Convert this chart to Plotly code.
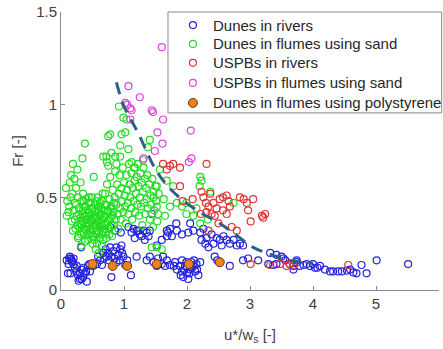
import plotly.graph_objects as go

# ---- data ----
dunes_rivers = [
    (0.14,0.18),(0.17,0.16),(0.12,0.14),(0.20,0.17),(0.15,0.09),(0.25,0.13),(0.30,0.06),(0.33,0.11),
    (0.38,0.09),(0.41,0.045),(0.28,0.05),(0.35,0.07),(0.32,0.23),(0.46,0.10),(0.22,0.12),(0.09,0.16),
    (0.51,0.13),(0.43,0.13),(0.30,0.09),(0.16,0.17),(0.18,0.15),(0.13,0.17),(0.24,0.10),(0.27,0.08),
    (0.36,0.12),(0.40,0.10),(0.20,0.14),(0.11,0.09),(0.33,0.06),(0.45,0.14),
    (0.62,0.16),(0.67,0.20),(0.71,0.22),(0.78,0.23),(0.83,0.21),(0.88,0.23),(0.94,0.22),(0.96,0.24),
    (0.72,0.18),(0.80,0.18),(0.85,0.17),(0.91,0.19),(0.99,0.18),(0.57,0.14),(0.65,0.135),(0.80,0.07),
    (1.11,0.08),(1.02,0.135),(0.88,0.15),(0.75,0.20),(0.68,0.17),(0.76,0.16),(0.93,0.16),(0.97,0.20),
    (0.59,0.18),(1.05,0.16),
    (1.07,0.34),(1.15,0.33),(1.23,0.32),(1.31,0.32),(1.36,0.31),(1.39,0.29),(1.28,0.29),(1.17,0.28),
    (1.33,0.27),(1.20,0.32),(1.41,0.32),(1.12,0.31),(0.78,0.34),(0.86,0.32),(0.95,0.31),(1.52,0.24),
    (1.25,0.30),(1.44,0.41),
    (1.20,0.18),(1.36,0.16),(1.47,0.15),(1.54,0.17),(1.60,0.14),(1.68,0.16),(1.73,0.135),(1.81,0.15),
    (1.89,0.13),(1.92,0.10),(1.94,0.07),(2.00,0.09),(2.05,0.11),(2.10,0.13),(2.15,0.14),(2.21,0.15),
    (1.97,0.13),(2.02,0.14),(2.07,0.15),(2.13,0.10),(2.02,0.06),(2.18,0.08),(1.92,0.16),(1.84,0.11),
    (1.79,0.13),(1.65,0.13),(1.52,0.13),(1.62,0.18),(1.41,0.18),(1.96,0.11),(2.04,0.09),(2.08,0.12),
    (1.99,0.15),(2.11,0.16),(1.90,0.08),(2.16,0.11),
    (1.68,0.32),(1.70,0.31),(1.76,0.29),(1.73,0.33),(1.84,0.32),(1.92,0.30),(1.68,0.29),(1.83,0.36),
    (2.05,0.36),(2.10,0.32),(2.02,0.31),(1.60,0.27),
    (2.21,0.31),(2.23,0.27),(2.29,0.25),(2.31,0.28),(2.34,0.23),(2.39,0.30),(2.42,0.25),(2.47,0.28),
    (2.52,0.27),(2.58,0.29),(2.63,0.27),(2.68,0.25),(2.74,0.27),(2.79,0.24),(2.84,0.25),(2.89,0.24),
    (2.44,0.18),(2.48,0.16),(2.68,0.13),(2.89,0.16),(2.97,0.17),(3.13,0.16),(2.26,0.33),(2.55,0.24),
    (3.29,0.14),(3.37,0.135),(3.42,0.14),(3.50,0.18),(3.56,0.16),(3.63,0.14),(3.69,0.13),(3.74,0.16),
    (3.79,0.13),(3.85,0.135),(3.90,0.14),(3.95,0.13),(4.03,0.12),(4.11,0.13),(4.19,0.11),(4.27,0.10),
    (4.32,0.10),(4.40,0.10),(4.46,0.10),(4.54,0.105),(4.59,0.11),(4.64,0.095),(4.69,0.09),(4.77,0.135),
    (4.85,0.09),(5.01,0.16),(5.51,0.14),(3.32,0.20),(3.42,0.19),(3.53,0.17),(3.74,0.15),(3.69,0.11),
    (4.00,0.14),(4.07,0.12),
]

dunes_flumes_sand = [
    (0.08,0.55),(0.10,0.48),(0.12,0.42),(0.09,0.40),(0.14,0.58),(0.13,0.45),(0.16,0.62),(0.18,0.52),
    (0.17,0.37),(0.19,0.68),(0.21,0.60),(0.22,0.47),(0.20,0.43),(0.23,0.33),(0.24,0.55),(0.26,0.65),
    (0.27,0.50),(0.25,0.40),(0.28,0.29),(0.29,0.44),(0.31,0.58),(0.30,0.36),(0.32,0.24),(0.33,0.48),
    (0.34,0.41),(0.35,0.52),(0.36,0.31),(0.37,0.45),(0.34,0.71),(0.38,0.79),(0.39,0.38),(0.40,0.49),
    (0.41,0.34),(0.42,0.43),(0.43,0.27),(0.44,0.47),(0.45,0.36),(0.46,0.40),(0.47,0.31),(0.48,0.44),
    (0.49,0.50),(0.50,0.38),(0.51,0.33),(0.52,0.61),(0.52,0.29),(0.53,0.42),(0.54,0.46),(0.55,0.35),
    (0.56,0.39),(0.57,0.25),(0.57,0.48),(0.58,0.32),(0.59,0.43),(0.60,0.37),(0.61,0.45),(0.62,0.34),
    (0.63,0.41),(0.64,0.30),(0.65,0.48),(0.66,0.38),(0.67,0.27),(0.68,0.43),(0.69,0.35),(0.70,0.52),
    (0.70,0.40),(0.71,0.31),(0.72,0.46),(0.73,0.57),(0.74,0.37),(0.75,0.42),(0.76,0.33),(0.77,0.49),
    (0.78,0.61),(0.79,0.39),(0.80,0.45),(0.81,0.29),(0.82,0.54),(0.83,0.42),(0.84,0.35),(0.85,0.50),
    (0.86,0.64),(0.87,0.38),(0.88,0.46),(0.89,0.57),(0.90,0.41),(0.91,0.33),(0.92,0.52),(0.93,0.62),
    (0.94,0.44),(0.95,0.38),(0.96,0.55),(0.97,0.48),(0.98,0.66),(0.99,0.42),(1.00,0.58),(1.01,0.51),
    (1.02,0.45),(1.03,0.36),(1.04,0.62),(1.05,0.54),(1.06,0.47),(1.07,0.41),(1.08,0.68),(1.09,0.57),
    (1.10,0.50),(1.11,0.44),(1.12,0.63),(1.13,0.38),(1.14,0.55),(1.15,0.48),(1.16,0.66),(1.17,0.59),
    (1.18,0.42),(1.19,0.52),(1.20,0.61),(1.21,0.46),(1.22,0.68),(1.23,0.56),(1.24,0.40),(1.25,0.50),
    (1.26,0.63),(1.27,0.45),(1.28,0.58),(1.29,0.35),(1.30,0.53),(1.31,0.66),(1.32,0.47),(1.33,0.60),
    (1.34,0.41),(1.35,0.55),(1.36,0.49),(1.37,0.62),(1.38,0.44),(1.40,0.57),(1.41,0.38),(1.42,0.51),
    (1.43,0.46),(1.45,0.60),(1.46,0.34),(1.47,0.53),(1.48,0.43),(1.50,0.56),(1.51,0.48),(1.53,0.37),
    (1.55,0.52),
    (0.22,0.38),(0.26,0.35),(0.28,0.41),(0.31,0.39),(0.33,0.35),(0.35,0.43),(0.37,0.33),(0.38,0.40),
    (0.40,0.36),(0.42,0.30),(0.43,0.38),(0.45,0.42),(0.46,0.33),(0.48,0.37),(0.49,0.29),(0.50,0.44),
    (0.53,0.35),(0.55,0.40),(0.56,0.30),(0.58,0.37),(0.60,0.42),(0.61,0.28),(0.63,0.36),(0.64,0.44),
    (0.66,0.32),(0.68,0.39),(0.69,0.46),(0.71,0.36),(0.72,0.28),(0.74,0.43),(0.76,0.38),(0.77,0.30),
    (0.79,0.44),(0.80,0.35),(0.82,0.40),(0.84,0.47),(0.47,0.47),(0.44,0.50),(0.39,0.45),(0.36,0.48),
    (0.58,0.50),(0.62,0.47),(0.66,0.52),(0.55,0.22),(0.60,0.20),(0.50,0.25),(0.65,0.24),(0.19,0.32),
    (0.92,0.99),(0.99,0.93),(0.96,0.84),(1.02,0.85),(0.75,0.83),(0.78,0.84),(0.72,0.72),(0.80,0.74),
    (0.73,0.69),(0.88,0.68),(0.94,0.72),(1.07,0.76),(1.41,0.81),(1.38,0.77),(1.57,0.65),(1.68,0.59),
    (1.78,0.56),(1.52,0.56),(1.47,0.50),(1.63,0.49),(1.73,0.45),(1.84,0.47),(1.92,0.45),(1.99,0.41),
    (2.10,0.40),(2.15,0.44),(1.54,0.41),(1.65,0.40),(1.44,0.23),(1.52,0.23),(1.60,0.22),(1.99,0.47),
    (2.21,0.36),(1.52,0.45),(2.21,0.61),(2.23,0.59),(2.37,0.53),(2.20,0.56),(2.74,0.47),(2.33,0.38),
    (0.94,0.78),(0.86,0.72),(0.67,0.72),(0.75,0.67),(1.12,0.69),(1.17,0.66),(1.30,0.70),(1.04,0.92),
    (0.15,0.50),(0.24,0.46),(0.29,0.34),(0.32,0.30),(0.41,0.40),(0.52,0.39),(0.57,0.35),(0.62,0.40),
    (0.27,0.28),(0.38,0.26),(0.45,0.30),(0.53,0.27),(0.70,0.33),(0.60,0.31),(0.40,0.32),(0.35,0.37),
]

uspb_rivers = [
    (1.62,0.68),(1.73,0.67),(1.78,0.68),(1.89,0.66),(1.68,0.65),(1.89,0.56),(2.31,0.68),(1.93,0.48),
    (2.09,0.49),(2.23,0.53),(2.26,0.50),(2.22,0.41),(2.30,0.47),(2.37,0.52),(2.34,0.45),(2.42,0.47),
    (2.47,0.44),(2.39,0.41),(2.44,0.40),(2.31,0.42),(2.52,0.49),(2.57,0.50),(2.63,0.51),(2.66,0.48),
    (2.68,0.45),(2.57,0.43),(2.63,0.41),(2.84,0.50),(2.90,0.49),(2.95,0.47),(3.05,0.49),(2.97,0.43),
    (3.01,0.37),(3.19,0.40),(3.24,0.41),(3.21,0.39),(2.34,0.32),(2.79,0.32),(2.71,0.34),(2.50,0.36),
    (3.01,0.14),(3.48,0.14),(3.63,0.14),(4.56,0.135),(3.32,0.135),(3.58,0.13),(3.69,0.135),
]

uspb_flumes_sand = [
    (1.60,1.31),(1.07,1.10),(1.25,1.04),(1.02,1.01),(1.05,1.00),(1.10,0.98),(1.12,0.97),(1.10,0.92),
    (1.44,0.97),(1.46,0.96),(1.62,0.92),(1.53,0.85),(1.61,0.79),(1.49,0.75),(1.31,0.71),(2.06,0.86),
    (2.07,0.71),(2.03,0.69),
]

dunes_flumes_polystyrene = [(0.50,0.14),(0.82,0.13),(1.05,0.13),(1.52,0.14),(2.03,0.14),(2.52,0.15)]

threshold_x = [0.88, 1.00, 1.22, 1.52, 1.78, 2.20, 2.47, 2.73, 3.05, 3.26, 3.63, 4.00]
threshold_y = [1.12, 0.99, 0.85, 0.64, 0.53, 0.42, 0.37, 0.31, 0.23, 0.20, 0.16, 0.145]

x_ticks = [0, 1, 2, 3, 4, 5, 6]
y_ticks = [0, 0.5, 1, 1.5]
y_tick_labels = ["0", "0.5", "1", "1.5"]

legend_names = ["Dunes in rivers", "Dunes in flumes using sand", "USPBs in rivers",
                "USPBs in flumes using sand", "Dunes in flumes using polystyrene"]
colors = ["#2424dc", "#22dd22", "#e03333", "#dd44dd", "#ee8020"]

FONT = "Liberation Sans, Arial, sans-serif"
series = [dunes_rivers, dunes_flumes_sand, uspb_rivers, uspb_flumes_sand]

fig = go.Figure()
for name, pts, col in zip(legend_names[:4], series, colors[:4]):
    fig.add_trace(go.Scatter(
        x=[p[0] for p in pts], y=[p[1] for p in pts], mode="markers", name=name, showlegend=False,
        marker=dict(symbol="circle-open", size=7, color=col, line=dict(width=1.2, color=col)),
    ))
fig.add_trace(go.Scatter(
    x=[p[0] for p in dunes_flumes_polystyrene], y=[p[1] for p in dunes_flumes_polystyrene],
    mode="markers", name=legend_names[4], showlegend=False,
    marker=dict(symbol="circle", size=9, color=colors[4], line=dict(width=1, color="#6b3a10")),
))
fig.add_trace(go.Scatter(
    x=threshold_x, y=threshold_y, mode="lines", showlegend=False,
    line=dict(color="#2f5f88", width=3, dash="12px,8px", shape="spline"),
))

# ---- legend box drawn in plot-area fractions (overlay axes 0..1) ----
leg_rows = [0.953, 0.885, 0.817, 0.745, 0.673]
leg_marker_x = 0.349
leg_text_x = 0.398
fig.add_shape(type="rect", xref="paper", yref="paper", x0=0.283, x1=1.007, y0=0.637, y1=1.0,
              line=dict(color="#8a8a8a", width=1), fillcolor="white", layer="below")
for i, (name, col) in enumerate(zip(legend_names, colors)):
    if i < 4:
        mk = dict(symbol="circle-open", size=7, color=col, line=dict(width=1.2, color=col))
    else:
        mk = dict(symbol="circle", size=9, color=col, line=dict(width=1, color="#6b3a10"))
    fig.add_trace(go.Scatter(x=[leg_marker_x], y=[leg_rows[i]], xaxis="x2", yaxis="y2",
                             mode="markers", marker=mk, showlegend=False, hoverinfo="skip",
                             cliponaxis=False))
    fig.add_annotation(x=leg_text_x, y=leg_rows[i], xref="paper", yref="paper", text=name,
                       showarrow=False, xanchor="left", yanchor="middle",
                       font=dict(size=15, color="#262626", family=FONT))

axis_common = dict(
    showgrid=False, zeroline=False, showline=True, linecolor="#8a8a8a", linewidth=1,
    ticks="inside", ticklen=4, tickcolor="#8a8a8a", mirror=False, automargin=False,
    tickfont=dict(size=15, color="#404040", family=FONT),
)

fig.update_layout(
    width=443, height=349,
    margin=dict(l=61, r=4, t=12, b=59),
    paper_bgcolor="white", plot_bgcolor="white",
    font=dict(family=FONT, color="#404040"),
    showlegend=False,
    xaxis=dict(range=[0, 6], tickvals=x_ticks,
               title=dict(text="u*/w<sub>s</sub> [-]", font=dict(size=15, color="#404040"), standoff=18),
               **axis_common),
    yaxis=dict(range=[0, 1.5], tickvals=y_ticks, ticktext=y_tick_labels,
               title=dict(text="Fr [-]", font=dict(size=15, color="#404040"), standoff=8),
               **axis_common),
    xaxis2=dict(overlaying="x", range=[0, 1], visible=False, fixedrange=True),
    yaxis2=dict(overlaying="y", range=[0, 1], visible=False, fixedrange=True),
)

fig.write_html("out.html", config={"displayModeBar": False},
               post_script="document.body.style.margin='0';document.body.style.padding='0';")
